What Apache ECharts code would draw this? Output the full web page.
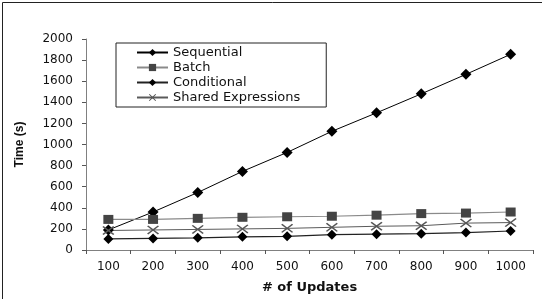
<!DOCTYPE html>
<html>
<head>
<meta charset="utf-8">
<script src="https://cdn.jsdelivr.net/npm/echarts@6/dist/echarts.min.js"></script>
<style>
html, body { margin: 0; padding: 0; background: #fff; }
#main { width: 542px; height: 299px; }
</style>
</head>
<body>
<div id="main"></div>
<script>
var updates = ['100', '200', '300', '400', '500', '600', '700', '800', '900', '1000'];
var sequential = [190, 360, 545, 745, 925, 1125, 1300, 1480, 1665, 1855];
var batch = [290, 290, 300, 310, 315, 320, 330, 345, 350, 360];
var conditional = [105, 110, 115, 125, 130, 145, 150, 155, 165, 180];
var shared = [185, 190, 195, 200, 205, 215, 225, 230, 255, 260];

var dom = document.getElementById('main');
var myChart = echarts.init(dom);

// X marker, drawn as a filled outline
var crossPath = 'path://M0,1L1,0L5,4L9,0L10,1L6,5L10,9L9,10L5,6L1,10L0,9L4,5Z';

var option = {
    animation: false,
    textStyle: { fontFamily: 'DejaVu Sans' },
    grid: { left: 86, right: 9, top: 39, bottom: 46 },
    legend: {
        orient: 'vertical',
        left: 116,
        top: 43,
        padding: [3, 26, 3, 20],
        itemGap: 2,
        itemWidth: 31,
        itemHeight: 9,
        borderColor: '#222',
        borderWidth: 1,
        textStyle: { fontSize: 13, color: '#111', fontFamily: 'DejaVu Sans' },
        data: ['Sequential', 'Batch', 'Conditional', 'Shared Expressions']
    },
    xAxis: {
        type: 'category',
        data: updates,
        name: '# of Updates',
        nameLocation: 'middle',
        nameGap: 31,
        nameTextStyle: { fontSize: 13, fontWeight: 'bold', color: '#111', fontFamily: 'DejaVu Sans' },
        axisLine: { lineStyle: { color: '#808080', width: 1 } },
        axisTick: { show: true, length: 4, lineStyle: { color: '#555' } },
        axisLabel: { fontSize: 12, color: '#111', margin: 11 }
    },
    yAxis: {
        type: 'value',
        min: 0,
        max: 2000,
        interval: 200,
        name: 'Time (s)',
        nameLocation: 'middle',
        nameGap: 60,
        nameTextStyle: { fontSize: 12, fontWeight: 'bold', color: '#111', fontFamily: 'Liberation Sans' },
        axisLine: { show: true, lineStyle: { color: '#808080', width: 1 } },
        axisTick: { show: true, length: 4, lineStyle: { color: '#555' } },
        axisLabel: {
            fontSize: 12,
            color: '#111',
            margin: 13,
            formatter: function (v) { return String(v); }
        },
        splitLine: { show: false }
    },
    graphic: [
        { type: 'line', shape: { x1: 2.5, y1: 2.5, x2: 2.5, y2: 299 }, style: { stroke: '#222', lineWidth: 1 } },
        { type: 'line', shape: { x1: 2.5, y1: 2.5, x2: 542, y2: 2.5 }, style: { stroke: '#222', lineWidth: 1 } }
    ],
    series: [
        {
            name: 'Sequential',
            type: 'line',
            data: sequential,
            symbol: 'diamond',
            symbolSize: [11, 11],
            lineStyle: { color: '#000', width: 1 },
            itemStyle: { color: '#000' }
        },
        {
            name: 'Batch',
            type: 'line',
            data: batch,
            symbol: 'rect',
            symbolSize: [10, 9],
            lineStyle: { color: '#8a8a8a', width: 1.2 },
            itemStyle: { color: '#444' }
        },
        {
            name: 'Conditional',
            type: 'line',
            data: conditional,
            symbol: 'diamond',
            symbolSize: [10, 10],
            lineStyle: { color: '#222', width: 1.2 },
            itemStyle: { color: '#000' }
        },
        {
            name: 'Shared Expressions',
            type: 'line',
            data: shared,
            symbol: crossPath,
            symbolSize: [12, 9],
            lineStyle: { color: '#5a5a5a', width: 1 },
            itemStyle: { color: '#555' }
        }
    ]
};

myChart.setOption(option);
</script>
</body>
</html>
